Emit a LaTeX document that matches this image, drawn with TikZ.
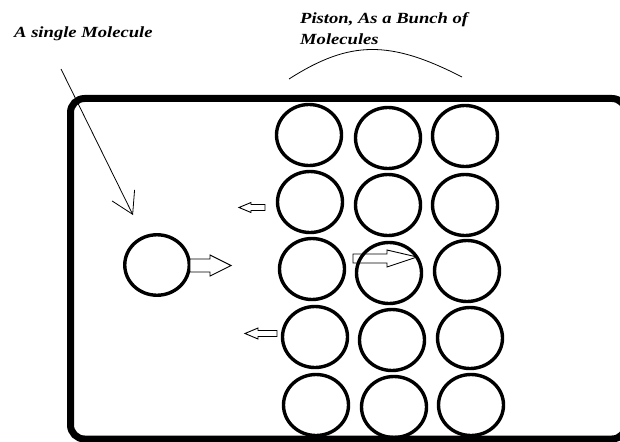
\documentclass[tikz,border=0pt]{standalone}
\usepackage{fontspec}
\newfontfamily\labfont[FakeStretch=1.2]{Liberation Serif}
\usetikzlibrary{shapes.geometric,arrows.meta}
\begin{document}
\begin{tikzpicture}[x=1pt,y=-1pt,
  mol/.style={ellipse,draw,line width=3.4pt,minimum width=65pt,minimum height=61pt,inner sep=0pt},
  lab/.style={font=\labfont\bfseries\itshape\fontsize{15.5}{21}\selectfont, anchor=base west, inner sep=0pt},
  harrow/.style={draw,line width=0.9pt,fill=white,line join=miter},
  thinline/.style={line width=0.8pt}]
\useasboundingbox (0,0) rectangle (620,441);
\fill[white] (0,0) rectangle (620,441);
% container
\draw[line width=7pt, rounded corners=14pt] (70.5,98.5) rectangle (626,439);
% labels
\node[lab] (lsingle) at (14,38) {A single Molecule};
\node[lab] (lpiston) at (300,24) {Piston, As a Bunch of};
\node[lab] (lmols) at (300,45) {Molecules};
% pointer
\coordinate (ptail) at (61,69);
\coordinate (ptip) at (133,215);
\draw[thinline, -{Straight Barb[length=21pt,width=25pt,line width=0.8pt]}] (ptail) -- (ptip);
% brace curve
\coordinate (ca) at (289,79);
\coordinate (cb) at (462,77);
\draw[thinline] (ca) .. controls (350,40) and (390,40) .. (cb);
% single molecule
\node[mol, minimum width=64.5pt, minimum height=60.5pt] (m) at (157,265) {};
% piston molecules
\node[mol] (c11) at (309,135) {};
\node[mol] (c12) at (388,138) {};
\node[mol] (c13) at (465,136) {};
\node[mol] (c21) at (310,202) {};
\node[mol] (c22) at (388,205) {};
\node[mol] (c23) at (465,205) {};
\node[mol] (c31) at (312,269) {};
\node[mol] (c32) at (389,273) {};
\node[mol] (c33) at (467,271) {};
\node[mol] (c41) at (315,337) {};
\node[mol] (c42) at (392,340) {};
\node[mol] (c43) at (470,338) {};
\node[mol] (c51) at (316,405) {};
\node[mol] (c52) at (394,407) {};
\node[mol] (c53) at (471,405) {};
% hollow arrows
\draw[harrow] (190,259) -- (210,259) -- (210,255) -- (231,265.5) -- (210,276) -- (210,272) -- (190,272) -- cycle;
\draw[harrow] (265,204.5) -- (251,204.5) -- (251,202.5) -- (239,207.5) -- (251,212.5) -- (251,210.5) -- (265,210.5) -- cycle;
\draw[harrow] (277,330.5) -- (258,330.5) -- (258,328) -- (245,333.5) -- (258,339) -- (258,336.5) -- (277,336.5) -- cycle;
\draw[harrow, fill=none] (353,254) -- (387,254) -- (387,250) -- (417,257) -- (387,267) -- (387,263) -- (353,263) -- cycle;
\end{tikzpicture}
\end{document}
